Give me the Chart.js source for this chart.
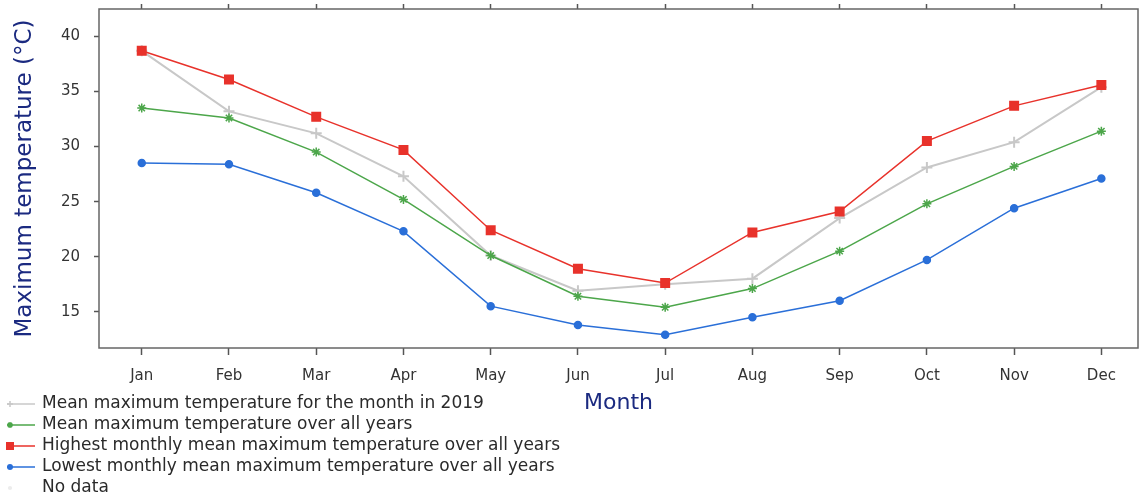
<!DOCTYPE html>
<html>
<head>
<meta charset="utf-8">
<script src="https://cdn.jsdelivr.net/npm/chart.js@4/dist/chart.umd.min.js"></script>
<style>
html,body{margin:0;padding:0;background:#fff;}
#wrap{width:1140px;height:497px;position:relative;}
</style>
</head>
<body>
<div id="wrap"><canvas id="c" width="1140" height="497"></canvas></div>
<script>
const months = ['Jan','Feb','Mar','Apr','May','Jun','Jul','Aug','Sep','Oct','Nov','Dec'];
const yTicks = [15,20,25,30,35,40];
const mean2019 = [38.7,33.2,31.2,27.3,20.1,16.9,17.5,18.0,23.5,28.1,30.4,35.4];
const meanAll  = [33.5,32.6,29.5,25.2,20.1,16.4,15.4,17.1,20.5,24.8,28.2,31.4];
const highest  = [38.7,36.1,32.7,29.7,22.4,18.9,17.6,22.2,24.1,30.5,33.7,35.6];
const lowest   = [28.5,28.4,25.8,22.3,15.5,13.8,12.9,14.5,16.0,19.7,24.4,27.1];
const legendLabels = [
  'Mean maximum temperature for the month in 2019',
  'Mean maximum temperature over all years',
  'Highest monthly mean maximum temperature over all years',
  'Lowest monthly mean maximum temperature over all years',
  'No data'
];

const COL = {gray:'#c8c8c8', green:'#4ca64a', red:'#e8322b', blue:'#2a6fd8', nodata:'#ececec'};
const pts = v => v.map((y,i)=>({x:i,y:y}));

const legendItems = [
  {text:legendLabels[0], color:COL.gray, style:'cross', r:3},
  {text:legendLabels[1], color:COL.green, style:'star', r:3},
  {text:legendLabels[2], color:COL.red, style:'rect', r:4},
  {text:legendLabels[3], color:COL.blue, style:'circle', r:3},
  {text:legendLabels[4], color:COL.nodata, style:'none', r:3}
];

function marker(ctx, style, x, y, r, color){
  ctx.save();
  ctx.fillStyle = color; ctx.strokeStyle = color; ctx.lineWidth = 1.5;
  ctx.beginPath();
  if (style==='rect'){ ctx.fillRect(x-r,y-r,2*r,2*r); }
  else if (style==='circle'){ ctx.arc(x,y,r,0,Math.PI*2); ctx.fill(); }
  else if (style==='cross'){ ctx.moveTo(x-r,y);ctx.lineTo(x+r,y);ctx.moveTo(x,y-r);ctx.lineTo(x,y+r);ctx.stroke(); }
  else if (style==='star'){ for(let a=0;a<4;a++){const t=a*Math.PI/4;ctx.moveTo(x-r*Math.cos(t),y-r*Math.sin(t));ctx.lineTo(x+r*Math.cos(t),y+r*Math.sin(t));} ctx.stroke(); }
  else { ctx.arc(x,y,r*0.7,0,Math.PI*2); ctx.fill(); }
  ctx.restore();
}

const boxAndLegend = {
  id:'boxAndLegend',
  afterDraw(chart){
    const ctx = chart.ctx, a = chart.chartArea;
    ctx.save();
    ctx.strokeStyle = '#666'; ctx.lineWidth = 1.5;
    ctx.strokeRect(a.left, a.top, a.right-a.left, a.bottom-a.top);
    const rows = [404,425,446,467,488];
    ctx.font = '17px "DejaVu Sans"';
    ctx.textBaseline = 'middle';
    legendItems.forEach((it,i)=>{
      const y = rows[i];
      if (it.style!=='none'){
        ctx.strokeStyle = it.color; ctx.lineWidth = 1.5;
        ctx.beginPath(); ctx.moveTo(7,y); ctx.lineTo(35,y); ctx.stroke();
      }
      marker(ctx, it.style, 10, y, it.r, it.color);
      ctx.fillStyle = '#2a2a2a';
      ctx.fillText(it.text, 42, y);
    });
    ctx.restore();
  }
};

function zeroPad(s){ s.paddingTop = 0; s.paddingBottom = 0; s.paddingLeft = 0; s.paddingRight = 0; }

new Chart(document.getElementById('c'), {
  type:'line',
  data:{
    datasets:[
      {label:legendLabels[2], data:pts(highest), borderColor:COL.red, backgroundColor:COL.red, pointStyle:'rect', pointRadius:6, pointHoverRadius:6, borderWidth:1.5},
      {label:legendLabels[3], data:pts(lowest), borderColor:COL.blue, backgroundColor:COL.blue, pointStyle:'circle', pointRadius:3.5, borderWidth:1.5},
      {label:legendLabels[1], data:pts(meanAll), borderColor:COL.green, backgroundColor:COL.green, pointStyle:'star', pointRadius:4.5, pointBorderWidth:1.5, borderWidth:1.5},
      {label:legendLabels[0], data:pts(mean2019), borderColor:COL.gray, backgroundColor:COL.gray, pointStyle:'cross', pointRadius:5.5, pointBorderWidth:2, borderWidth:2}
    ]
  },
  options:{
    responsive:false,
    animation:false,
    layout:{padding:{left:0,right:2,top:0,bottom:0}, autoPadding:false},
    plugins:{legend:{display:false}, tooltip:{enabled:false}},
    scales:{
      x:{
        type:'linear', position:'bottom', min:-0.49, max:11.42,
        afterBuildTicks(s){ s.ticks = months.map((m,i)=>({value:i})); },
        afterFit(s){ s.height = 149; zeroPad(s); },
        ticks:{ callback:v=>months[v], color:'#333', font:{family:'DejaVu Sans', size:15}, padding:12, maxRotation:0, autoSkip:false },
        grid:{ drawOnChartArea:false, drawTicks:true, tickLength:7, tickColor:'#555', tickWidth:1.5 },
        border:{display:false},
        title:{ display:true, text:'Month', color:'#1b2a80', font:{family:'DejaVu Sans', size:22}, padding:{top:0,bottom:81} }
      },
      x2:{
        type:'linear', position:'top', min:-0.49, max:11.42,
        afterBuildTicks(s){ s.ticks = months.map((m,i)=>({value:i})); },
        afterFit(s){ s.height = 9; zeroPad(s); },
        ticks:{ display:false },
        grid:{ drawOnChartArea:false, drawTicks:true, tickLength:5, tickColor:'#555', tickWidth:1.5 },
        border:{display:false}
      },
      y:{
        type:'linear', position:'left', min:11.7, max:42.5,
        afterBuildTicks(s){ s.ticks = yTicks.map(v=>({value:v})); },
        afterFit(s){ s.width = 99; zeroPad(s); },
        ticks:{ color:'#333', font:{family:'DejaVu Sans', size:15}, padding:14 },
        grid:{ drawOnChartArea:false, drawTicks:true, tickLength:5, tickColor:'#555', tickWidth:1.5 },
        border:{display:false},
        title:{ display:true, text:'Maximum temperature (°C)', color:'#1b2a80', font:{family:'DejaVu Sans', size:23}, padding:{top:11,bottom:0} }
      }
    }
  },
  plugins:[boxAndLegend]
});
</script>
</body>
</html>
